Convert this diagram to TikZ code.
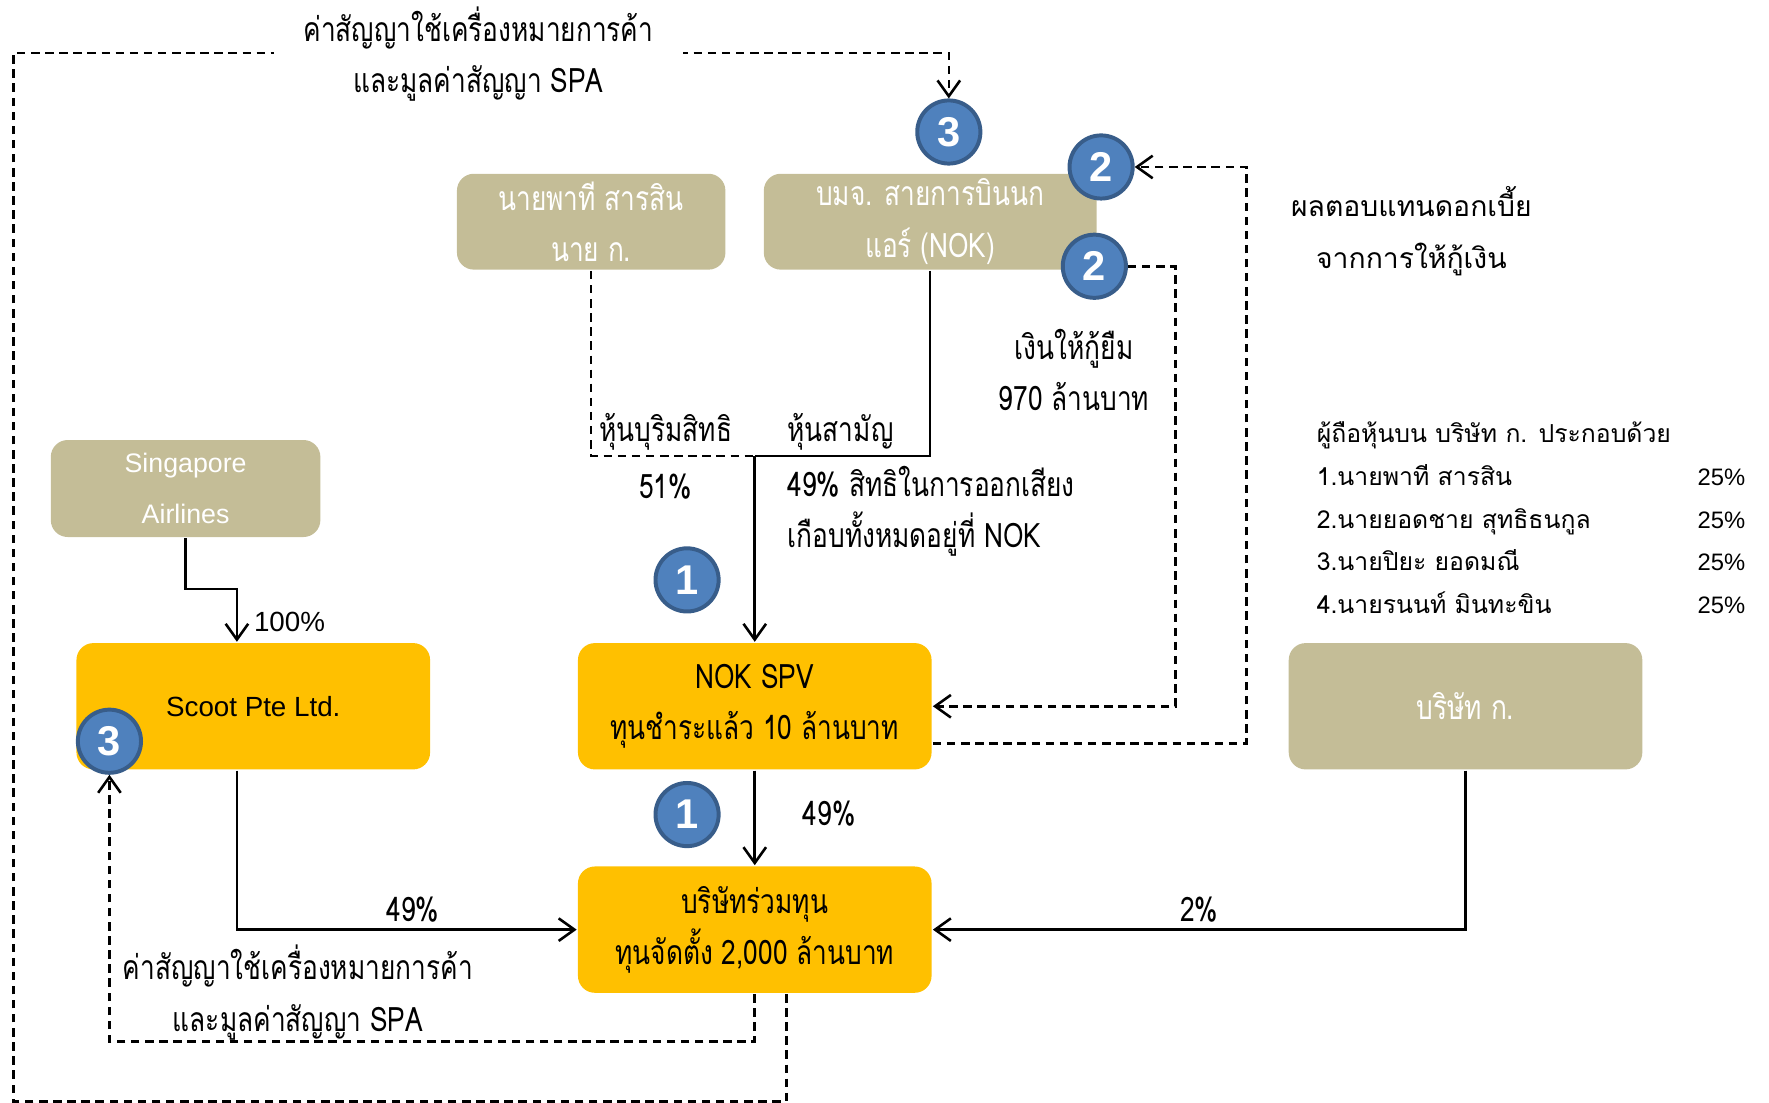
\documentclass[tikz,border=0pt]{standalone}
\usepackage{fontspec}
\usetikzlibrary{arrows.meta}
\setmainfont{Liberation Sans}
\newfontfamily\thai[Script=Thai,FakeStretch=0.78]{Loma}
\newfontfamily\thaiw[Script=Thai]{Loma}
\definecolor{tan}{HTML}{C4BD97}
\definecolor{gold}{HTML}{FFC000}
\definecolor{badge}{HTML}{4F81BD}
\definecolor{badgeline}{HTML}{385D8A}
\tikzset{
  owner/.style={rectangle, rounded corners=0.3cm, fill=tan, text=white, align=center,
    font=\thai\fontsize{17}{26}\selectfont, minimum height=1.7cm, inner sep=0},
  firm/.style={owner, fill=gold, text=black, minimum width=6.27cm, minimum height=2.24cm},
  badge/.style={circle, fill=badge, draw=badgeline, line width=2pt, text=white,
    font=\bfseries\fontsize{21}{21}\selectfont, minimum size=1.12cm, inner sep=0},
  lbl/.style={font=\thai\fontsize{17}{26}\selectfont, align=center, inner sep=0},
  list/.style={font=\thaiw\fontsize{12.5}{13}\selectfont, inner sep=0, text height=0.32cm, text depth=0.1cm},
  flow/.style={dash pattern=on 0.15cm off 0.1cm},
  >={Straight Barb[length=0.28cm,width=0.4cm]}
}
\begin{document}
\begin{tikzpicture}[x=0.02cm,y=-0.02cm,line width=1.3pt]
  \useasboundingbox (0,0) rectangle (1568,977);
  \node[owner, minimum width=4.76cm] (pathi) at (524,196.5) {นายพาที สารสิน\\นาย ก.};
  \node[owner, minimum width=5.9cm] (nok) at (824.5,196.5) {บมจ. สายการบินนก\\แอร์ (NOK)};
  \node[owner, minimum width=4.78cm, minimum height=1.72cm, font=\fontsize{13.5}{26}\selectfont] (sia) at (164.5,433) {Singapore\\Airlines};
  \node[firm, font=\fontsize{14}{26}\selectfont] (scoot) at (224.5,626) {Scoot Pte Ltd.};
  \node[firm] (spv) at (669,626) {NOK SPV\\ทุนชำระแล้ว 10 ล้านบาท};
  \node[firm] (jv) at (669,824) {บริษัทร่วมทุน\\ทุนจัดตั้ง 2,000 ล้านบาท};
  \node[firm, fill=tan, text=white] (kor) at (1299,626) {บริษัท ก.};
  \coordinate (join) at (669,404);
  \coordinate (corner) at (12,47);
  \node[badge] (c3top) at (841,117) {3};
  \node[badge] (c2a) at (976,148) {2};
  \node[badge] (c2b) at (970,236) {2};
  \node[badge] (c1a) at (609,514) {1};
  \node[badge] (c1b) at (609,722) {1};
  \node[badge] (c3s) at (97,657) {3};
  \begin{scope}[->]
    \draw (sia.south) -- ++(0,45) -| ([xshift=-0.29cm]scoot.north);
    \draw ([xshift=-0.29cm]scoot.south) |- (jv.west);
    \draw (kor.south) |- (jv.east);
    \draw (spv) -- (jv);
    \draw (join) -- (spv);
    \draw[flow] (c2b.east) -- ++(42,0) |- (spv.east);
    \draw[flow] ([yshift=-0.66cm]spv.east) -| ([xshift=1.98cm]c2a.east) -- (c2a.east);
    \draw[flow] ([xshift=0.56cm]jv.south) -- ++(0,95) -| (corner) -| (c3top.north);
    \draw[flow] (jv.south) -- ++(0,42) -| (c3s.south);
  \end{scope}
  \begin{scope}[-]
    \draw[flow] (pathi.south) |- (join);
    \draw (nok.south) |- (join);
  \end{scope}
  \node[lbl, fill=white, inner xsep=0.52cm] (fee) at (424,48) {ค่าสัญญาใช้เครื่องหมายการค้า\\และมูลค่าสัญญา SPA};
  \node[lbl] (fee2) at (264,880) {ค่าสัญญาใช้เครื่องหมายการค้า\\และมูลค่าสัญญา SPA};
  \node[lbl] (pref) at (590,383) {หุ้นบุริมสิทธิ};
  \node[lbl] (p51) at (590,431) {51\%};
  \node[lbl] (comm) at (745,383) {หุ้นสามัญ};
  \node[lbl, align=left, anchor=west] (vote) at (697,453) {49\% สิทธิในการออกเสียง\\เกือบทั้งหมดอยู่ที่ NOK};
  \node[lbl] (loan) at (952,328) {เงินให้กู้ยืม\\970 ล้านบาท};
  \node[lbl, font=\thaiw\fontsize{14.3}{26}\selectfont] (intr) at (1251,205) {ผลตอบแทนดอกเบี้ย\\จากการให้กู้เงิน};
  \node[lbl, font=\fontsize{14}{14}\selectfont, anchor=west] (p100) at (224,551) {100\%};
  \node[lbl] (p49a) at (366,806) {49\%};
  \node[lbl] (p2) at (1063,806) {2\%};
  \node[lbl] (p49b) at (735,721) {49\%};
  \node[list, anchor=west] (head) at (1166,387) {ผู้ถือหุ้นบน บริษัท ก. ประกอบด้วย};
  \foreach \nm [count=\k] in {นายพาที สารสิน, นายยอดชาย สุทธิธนกูล, นายปิยะ ยอดมณี, นายรนนท์ มินทะขิน}{
    \node[list, anchor=west] (m\k) at (1166,387+37.8*\k) {\k.\nm};
    \node[list, anchor=east, font=\fontsize{12}{12}\selectfont] (s\k) at (1548,387+37.8*\k) {25\%};
  }
\end{tikzpicture}
\end{document}
